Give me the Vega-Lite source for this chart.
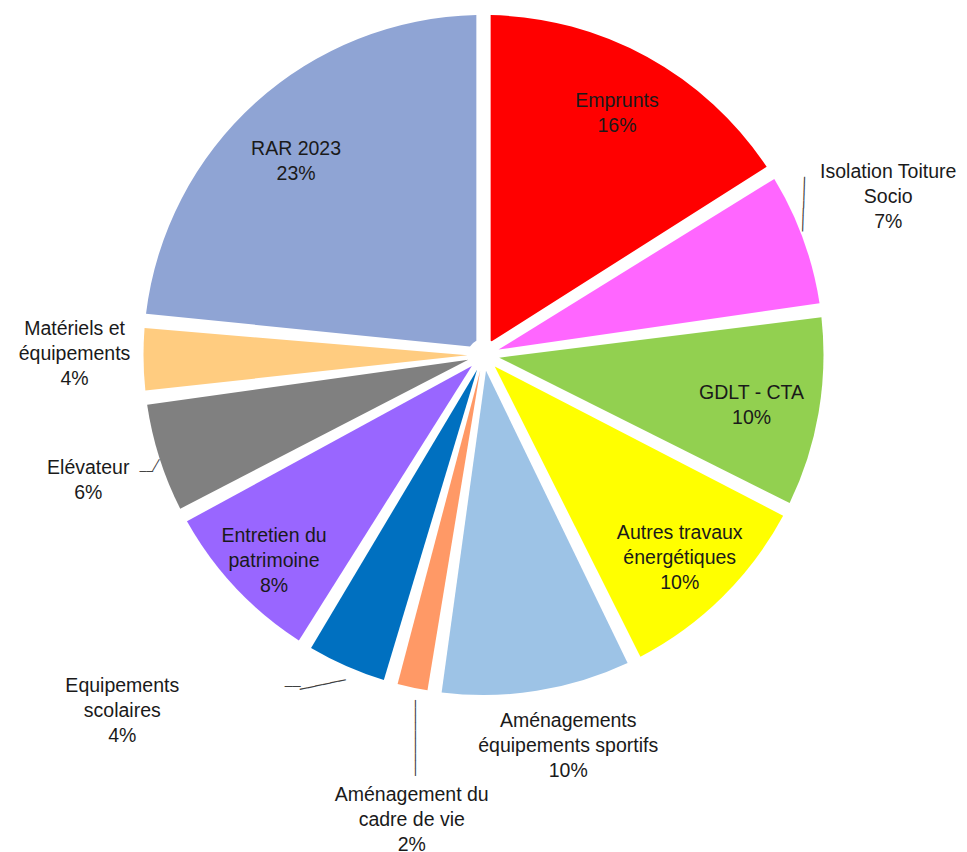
{
  "$schema": "https://vega.github.io/schema/vega-lite/v6.json",
  "width": 967,
  "height": 710,
  "autosize": {"type": "none"},
  "padding": {"left": 0, "top": 0, "right": 0, "bottom": 142},
  "background": "white",
  "config": {"view": {"stroke": null}, "text": {"font": "Liberation Sans", "fontSize": 19.5, "fill": "#1a1a1a", "lineBreak": "\n", "lineHeight": 25, "align": "center", "baseline": "middle"}},
  "data": {
    "values": [
      {"i": 1, "cat": "Emprunts", "v": 16.0, "label": "Emprunts\n16%"},
      {"i": 2, "cat": "Isolation Toiture Socio", "v": 6.9, "label": "Isolation Toiture\nSocio\n7%"},
      {"i": 3, "cat": "GDLT - CTA", "v": 9.6, "label": "GDLT - CTA\n10%"},
      {"i": 4, "cat": "Autres travaux énergétiques", "v": 10.2, "label": "Autres travaux\nénergétiques\n10%"},
      {"i": 5, "cat": "Aménagements équipements sportifs", "v": 9.6, "label": "Aménagements\néquipements sportifs\n10%"},
      {"i": 6, "cat": "Aménagement du cadre de vie", "v": 2.1, "label": "Aménagement du\ncadre de vie\n2%"},
      {"i": 7, "cat": "Equipements scolaires", "v": 4.4, "label": "Equipements\nscolaires\n4%"},
      {"i": 8, "cat": "Entretien du patrimoine", "v": 8.4, "label": "Entretien du\npatrimoine\n8%"},
      {"i": 9, "cat": "Elévateur", "v": 5.8, "label": "Elévateur\n6%"},
      {"i": 10, "cat": "Matériels et équipements", "v": 3.6, "label": "Matériels et\néquipements\n4%"},
      {"i": 11, "cat": "RAR 2023", "v": 23.4, "label": "RAR 2023\n23%"}
    ]
  },
  "encoding": {
    "theta": {"field": "v", "type": "quantitative", "stack": true},
    "order": {"field": "i", "type": "quantitative"},
    "detail": {"field": "cat", "type": "nominal"}
  },
  "layer": [
    {
      "mark": {"type": "arc", "outerRadius": 340, "innerRadius": 16, "padAngle": 0.042},
      "encoding": {
        "color": {
          "field": "cat", "type": "nominal", "legend": null, "sort": null,
          "scale": {
            "domain": ["Emprunts", "Isolation Toiture Socio", "GDLT - CTA", "Autres travaux énergétiques", "Aménagements équipements sportifs", "Aménagement du cadre de vie", "Equipements scolaires", "Entretien du patrimoine", "Elévateur", "Matériels et équipements", "RAR 2023"],
            "range": ["#FF0000", "#FF66FF", "#92D050", "#FFFF00", "#9DC3E6", "#FF9966", "#0070C0", "#9966FF", "#808080", "#FFCC80", "#8FA4D4"]
          }
        }
      }
    },
    {"mark": {"type": "text", "radius": 275, "dx": 1, "dy": -13},
     "encoding": {"text": {"condition": {"test": "datum.cat === 'Emprunts'", "field": "label"}, "value": ""}}},
    {"mark": {"type": "text", "radius": 275, "dx": -3, "dy": -2},
     "encoding": {"text": {"condition": {"test": "datum.cat === 'RAR 2023'", "field": "label"}, "value": ""}}},
    {"mark": {"type": "text", "radius": 275, "dx": -3, "dy": -8},
     "encoding": {"text": {"condition": {"test": "datum.cat === 'GDLT - CTA'", "field": "label"}, "value": ""}}},
    {"mark": {"type": "text", "radius": 275, "dx": 3, "dy": -18},
     "encoding": {"text": {"condition": {"test": "datum.cat === 'Autres travaux énergétiques'", "field": "label"}, "value": ""}}},
    {"mark": {"type": "text", "radius": 275, "dx": -9, "dy": -7},
     "encoding": {"text": {"condition": {"test": "datum.cat === 'Entretien du patrimoine'", "field": "label"}, "value": ""}}},
    {"mark": {"type": "text", "radius": 420, "dx": 10, "dy": -39},
     "encoding": {"text": {"condition": {"test": "datum.cat === 'Isolation Toiture Socio'", "field": "label"}, "value": ""}}},
    {"mark": {"type": "text", "radius": 420, "dx": 19, "dy": -49},
     "encoding": {"text": {"condition": {"test": "datum.cat === 'Aménagements équipements sportifs'", "field": "label"}, "value": ""}}},
    {"mark": {"type": "text", "radius": 420, "dx": 16, "dy": 29},
     "encoding": {"text": {"condition": {"test": "datum.cat === 'Aménagement du cadre de vie'", "field": "label"}, "value": ""}}},
    {"mark": {"type": "text", "radius": 420, "dx": -192, "dy": -53},
     "encoding": {"text": {"condition": {"test": "datum.cat === 'Equipements scolaires'", "field": "label"}, "value": ""}}},
    {"mark": {"type": "text", "radius": 420, "dx": 5, "dy": -14},
     "encoding": {"text": {"condition": {"test": "datum.cat === 'Elévateur'", "field": "label"}, "value": ""}}},
    {"mark": {"type": "text", "radius": 420, "dx": 11, "dy": -31},
     "encoding": {"text": {"condition": {"test": "datum.cat === 'Matériels et équipements'", "field": "label"}, "value": ""}}},
    {"mark": {"type": "text", "radius": 354, "dx": 29.5, "dy": -13.2, "angle": -88, "font": "DejaVu Sans", "fontSize": 13, "fill": "#404040"},
     "encoding": {"text": {"condition": {"test": "datum.cat === 'Isolation Toiture Socio'", "value": "───────"}, "value": ""}}},
    {"mark": {"type": "text", "radius": 389, "dx": 2.6, "dy": -13, "angle": 90, "font": "DejaVu Sans", "fontSize": 12.6, "fill": "#404040"},
     "encoding": {"text": {"condition": {"test": "datum.cat === 'Aménagement du cadre de vie'", "value": "──────────"}, "value": ""}}},
    {"mark": {"type": "text", "radius": 420, "dx": -21.6, "dy": -52.3, "font": "DejaVu Sans", "fontSize": 13, "fill": "#404040"},
     "encoding": {"text": {"condition": {"test": "datum.cat === 'Equipements scolaires'", "value": "──"}, "value": ""}}},
    {"mark": {"type": "text", "radius": 364, "dx": -13, "dy": -6, "angle": -12, "font": "DejaVu Sans", "fontSize": 13, "fill": "#404040"},
     "encoding": {"text": {"condition": {"test": "datum.cat === 'Equipements scolaires'", "value": "──────"}, "value": ""}}},
    {"mark": {"type": "text", "radius": 420, "dx": 63, "dy": -10, "font": "DejaVu Sans", "fontSize": 11, "fill": "#404040"},
     "encoding": {"text": {"condition": {"test": "datum.cat === 'Elévateur'", "value": "──"}, "value": ""}}},
    {"mark": {"type": "text", "radius": 345, "dx": -4.5, "dy": 4.8, "angle": -60, "font": "DejaVu Sans", "fontSize": 11.5, "fill": "#404040"},
     "encoding": {"text": {"condition": {"test": "datum.cat === 'Elévateur'", "value": "──"}, "value": ""}}}
  ]
}
